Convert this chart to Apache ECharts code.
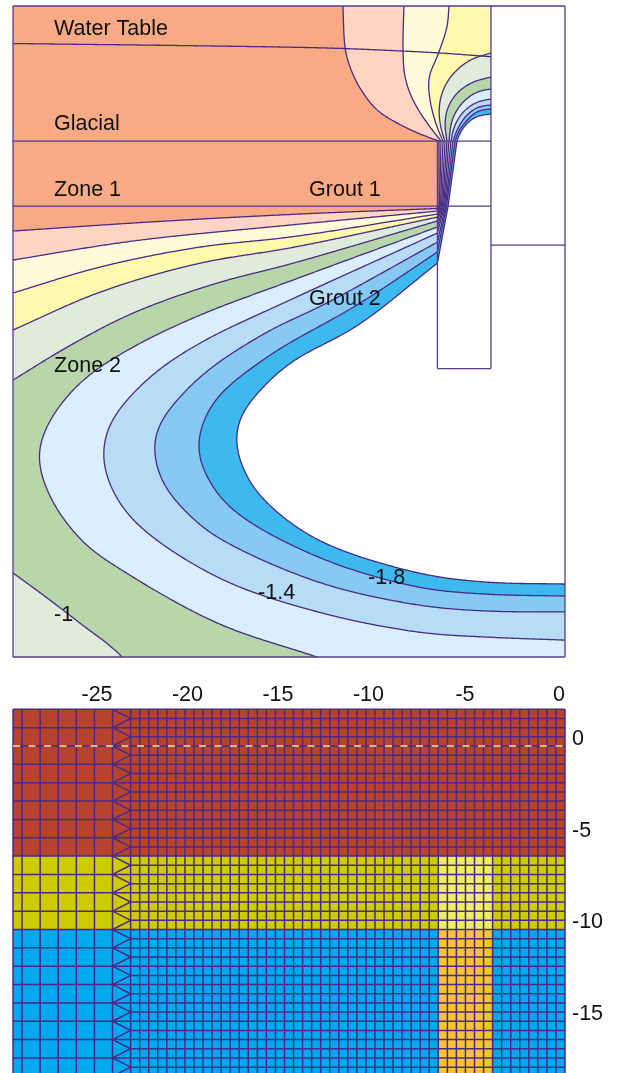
<!DOCTYPE html>
<html><head><meta charset="utf-8">
<style>html,body{margin:0;padding:0;background:#fff}#c{width:619px;height:1073px}</style>
<script src="https://cdn.jsdelivr.net/npm/echarts@6/dist/echarts.min.js"></script>
</head><body><div id="c"></div>
<script>
const xMin = -30.5, xMax = 0;
const contourYMax = 2.31, contourYMin = -37.75;
const meshYMax = 2, meshYMin = -18, meshViewYMin = -17.82;
const xTicks = [-25, -20, -15, -10, -5, 0];
const yTicks = [0, -5, -10, -15];

// Head contours: lower limb (outer boundary to grout wall), crossing at y=-10, upper limb (y=-6 to edge)
const c1Low = [[-30.5,-11.54],[-22.93,-10.98],[-14.64,-10.49],[-7.05,-10.15]];
const c1Up = [[-6.96,-6],[-8.01,-5.57],[-9.28,-4.89],[-10.39,-4.09],[-11.33,-2.74],[-11.88,-1.45],[-12.15,-0.28],[-12.27,2.31]];
const c2Low = [[-30.5,-13.32],[-23.87,-12.15],[-15.19,-11.17],[-7.05,-10.31]];
const c2Up = [[-6.85,-6],[-7.62,-4.89],[-8.40,-3.48],[-8.84,-2.06],[-8.95,-0.40],[-8.90,2.31]];
const c3Low = [[-30.5,-15.35],[-25.69,-13.75],[-20.17,-12.52],[-15.19,-11.91],[-7.05,-10.49]];
const c3Up = [[-6.74,-6],[-7.07,-5.14],[-7.46,-3.48],[-7.51,-2.06],[-7.07,-0.83],[-6.52,1.02],[-6.41,2.31]];
const c4Low = [[-30.5,-17.63],[-25.69,-15.29],[-20.17,-13.51],[-15.19,-12.58],[-7.05,-10.68]];
const c4Up = [[-6.63,-6],[-6.80,-5.45],[-6.96,-4.28],[-6.80,-3.05],[-6.24,-1.94],[-5.25,-1.02],[-4.09,-0.58]];
const c5Low = [[-30.5,-20.71],[-27.51,-18.68],[-23.87,-16.58],[-19.23,-14.74],[-15.19,-13.57],[-7.05,-10.92]];
const c5Up = [[-6.52,-6],[-6.63,-5.14],[-6.52,-4.09],[-5.97,-3.05],[-5.08,-2.37],[-4.09,-2.06]];
const c6Low = [[-13.70,-37.75],[-19.23,-35.66],[-24.75,-32.22],[-26.63,-30.68],[-28.45,-27.91],[-29.09,-25.32],[-28.45,-23.17],[-26.63,-20.71],[-23.87,-18.68],[-20.17,-16.71],[-15.19,-14.62],[-7.05,-11.29]];
const c6Up = [[-6.41,-6],[-6.24,-4.71],[-5.69,-3.66],[-4.86,-2.98],[-4.09,-2.80]];
const c7Low = [[0,-36.71],[-4.42,-36.52],[-8.12,-36.22],[-13.65,-34.98],[-19.23,-32.83],[-23.87,-29.32],[-25.25,-26.86],[-25.52,-25.02],[-25.03,-23.17],[-22.93,-20.52],[-20.17,-18.43],[-15.19,-15.78],[-7.05,-11.66]];
const c7Up = [[-6.30,-6],[-6.13,-5.14],[-5.64,-4.22],[-4.86,-3.60],[-4.09,-3.42]];
const c8Low = [[0,-34.98],[-4.42,-34.92],[-8.12,-34.55],[-13.65,-33.14],[-19.23,-30.37],[-20.88,-28.89],[-22.21,-27.05],[-22.71,-25.02],[-22.43,-23.48],[-20.17,-20.52],[-16.46,-17.75],[-13.37,-16.09],[-7.05,-12.22]];
const c8Up = [[-6.19,-6],[-6.02,-5.45],[-5.52,-4.52],[-4.81,-3.91],[-4.09,-3.78]];
const c9Low = [[0,-34.00],[-4.42,-33.88],[-8.12,-33.45],[-13.65,-31.60],[-18.34,-28.71],[-19.78,-26.68],[-20.28,-24.71],[-19.45,-22.12],[-16.46,-19.29],[-11.49,-16.09],[-7.05,-12.83]];
const c9Up = [[-6.08,-6],[-5.91,-5.45],[-5.41,-4.71],[-4.81,-4.15],[-4.09,-4.03]];
const c10Low = [[0,-33.26],[-4.42,-33.14],[-8.12,-32.58],[-13.65,-30.55],[-16.46,-28.28],[-17.57,-26.68],[-18.18,-24.58],[-17.96,-23.05],[-17.18,-21.75],[-15.19,-19.66],[-11.49,-17.38],[-7.05,-13.51]];
const c10Up = [[-5.97,-6],[-5.80,-5.51],[-5.41,-4.89],[-4.81,-4.46],[-4.09,-4.34]];
const crossingX = [-6.96,-6.93,-6.88,-6.82,-6.77,-6.71,-6.66,-6.60,-6.55,-6.46];
const cornerContour = [[-30.5,-32.58],[-28.45,-34.25],[-26.08,-36.28],[-25.14,-37.02],[-24.48,-37.75]];
const waterTable = [[-30.5,0],[-20.17,-0.14],[-12.98,-0.28],[-9.01,-0.46],[-6.91,-0.58],[-4.09,-0.81]];

const layerY = [-6, -10];
const wellLeft = -7.05, wellRight = -4.09, wellBottom = -20, outerStep = -12.4;

const labelText = ['Water Table','Glacial','Zone 1','Grout 1','Grout 2','Zone 2','-1','-1.4','-1.8'];
const labelX = [-28.23,-28.23,-28.23,-14.14,-14.14,-28.23,-28.23,-16.96,-10.88];
const labelY = [0.89,-4.95,-9.01,-9.01,-15.72,-19.84,-35.17,-33.81,-32.89];

// Mesh
const meshXCoarse = [-30.5,-30,-29,-28,-27,-26,-25];
const meshXFine = [-24,-23.5,-23,-22.5,-22,-21.5,-21,-20.5,-20,-19.5,-19,-18.5,-18,-17.5,-17,-16.5,-16,-15.5,-15,-14.5,-14,-13.5,-13,-12.5,-12,-11.5,-11,-10.5,-10,-9.5,-9,-8.5,-8,-7.5,-7,-6.5,-6,-5.5,-5,-4.5,-4,-3.5,-3,-2.5,-2,-1.5,-1,-0.5,0];
const meshYCoarse = [2,1,0,-1,-2,-3,-4,-5,-6,-7,-8,-9,-10,-11,-12,-13,-14,-15,-16,-17,-18];
const meshYHalf = [1.5,0.5,-0.5,-1.5,-2.5,-3.5,-4.5,-5.5,-6.5,-7.5,-8.5,-9.5,-10.5,-11.5,-12.5,-13.5,-14.5,-15.5,-16.5,-17.5];
const zoneBands = [
  [-30.5,0,2,-6,'#b7432f'],
  [-30.5,0,-6,-10,'#cccc00'],
  [-7,-4,-6,-10,'#eeee60'],
  [-30.5,0,-10,-18,'#00a9ed'],
  [-7,-4,-10,-18,'#f8c232']
];

const INK = '#4a2a85';
const FONT = '"Liberation Sans", Arial, sans-serif';

function catmull(pts){
  if (pts.length < 3) return pts.slice();
  const out = [pts[0]], N = 10;
  const d = (a,b)=>Math.max(1e-3, Math.sqrt(Math.hypot(a[0]-b[0],a[1]-b[1])));
  const lerp = (a,b,t)=>[a[0]+(b[0]-a[0])*t, a[1]+(b[1]-a[1])*t];
  for (let i=0;i<pts.length-1;i++){
    const p1=pts[i], p2=pts[i+1];
    const p0=pts[i-1]||[2*p1[0]-p2[0],2*p1[1]-p2[1]];
    const p3=pts[i+2]||[2*p2[0]-p1[0],2*p2[1]-p1[1]];
    const t0=0,t1=t0+d(p0,p1),t2=t1+d(p1,p2),t3=t2+d(p2,p3);
    for (let s=1;s<=N;s++){
      const t=t1+(t2-t1)*s/N;
      const a1=lerp(p0,p1,(t-t0)/(t1-t0)),a2=lerp(p1,p2,(t-t1)/(t2-t1)),a3=lerp(p2,p3,(t-t2)/(t3-t2));
      const b1=lerp(a1,a2,(t-t0)/(t2-t0)),b2=lerp(a2,a3,(t-t1)/(t3-t1));
      out.push(lerp(b1,b2,(t-t1)/(t2-t1)));
    }
  }
  return out;
}
// Drawing helper: even spacing, then a small moving average so the hand-read points do not show as kinks
function fair(path, radius){
  const step = 1.5, res = [path[0]];
  let carry = 0;
  for (let i=1;i<path.length;i++){
    const a=path[i-1], b=path[i], len=Math.hypot(b[0]-a[0],b[1]-a[1]);
    let t=step-carry;
    while(t<len){ res.push([a[0]+(b[0]-a[0])*t/len,a[1]+(b[1]-a[1])*t/len]); t+=step; }
    carry=(carry+len)%step;
  }
  res.push(path[path.length-1]);
  let cur=res;
  for (let pass=0;pass<2;pass++){
    cur=cur.map((_,i)=>{
      const r=Math.min(radius,i,cur.length-1-i);
      let x=0,y=0;
      for(let k=i-r;k<=i+r;k++){x+=cur[k][0];y+=cur[k][1];}
      return [x/(2*r+1),y/(2*r+1)];
    });
  }
  return cur;
}

function pathPx(api, c){
  const low = fair(catmull(c.low.map(p=>api.coord(p))),8);
  const mid = [api.coord([c.cross,-10])];
  const up = fair(catmull(c.up.map(p=>api.coord(p))),3);
  return low.concat(mid, up);
}

const contours = [
  {low:c1Low,up:c1Up},{low:c2Low,up:c2Up},{low:c3Low,up:c3Up},{low:c4Low,up:c4Up},{low:c5Low,up:c5Up},
  {low:c6Low,up:c6Up},{low:c7Low,up:c7Up},{low:c8Low,up:c8Up},{low:c9Low,up:c9Up},{low:c10Low,up:c10Up}
].map((c,i)=>Object.assign(c,{cross:crossingX[i]}));
const fills = ['#fdd5c2','#fffbd8','#fff8ad','#dfecdb','#b7d7ab','#dbeefd','#b6dcf6','#86caf4','#3db9f0','#ffffff'];

function custom(grid, data, renderItem){
  return {type:'custom',coordinateSystem:'cartesian2d',xAxisIndex:grid,yAxisIndex:grid,silent:true,animation:false,clip:false,data,renderItem};
}

const series = [];
series.push(custom(0,[[xMin,contourYMax]],(p,api)=>({type:'polygon',shape:{points:[[xMin,contourYMax],[xMax,contourYMax],[xMax,contourYMin],[xMin,contourYMin]].map(q=>api.coord(q))},style:{fill:'#f7aa84'}})));
contours.forEach((c,i)=>{
  series.push(custom(0,[c.low[0]],(p,api)=>{
    const last=c.up[c.up.length-1];
    let extra;
    if (i<5) extra=[[xMax,last[1]],[xMax,contourYMin],[xMin,contourYMin]];
    else if (i===5) extra=[[xMax,last[1]],[xMax,contourYMin]];
    else if (i<9) extra=[[xMax,last[1]]];
    else extra=[[last[0],contourYMax],[xMax,contourYMax]];
    return {type:'polygon',shape:{points:pathPx(api,c).concat(extra.map(q=>api.coord(q)))},style:{fill:fills[i]}};
  }));
  if (i===4){
    series.push(custom(0,[cornerContour[0]],(p,api)=>({type:'polygon',shape:{points:fair(catmull(cornerContour.map(q=>api.coord(q))),8).concat([api.coord([xMin,contourYMin])])},style:{fill:'#dfecdb'}})));
  }
});
contours.forEach(c=>{
  series.push(custom(0,[c.low[0]],(p,api)=>({type:'polyline',shape:{points:pathPx(api,c)},style:{fill:null,stroke:INK,lineWidth:1.3}})));
});
[cornerContour,waterTable].forEach(l=>{
  series.push(custom(0,[l[0]],(p,api)=>({type:'polyline',shape:{points:fair(catmull(l.map(q=>api.coord(q))),8)},style:{fill:null,stroke:INK,lineWidth:1.3}})));
});
const topSegments = [
  [xMin,layerY[0],wellRight,layerY[0]],
  [xMin,layerY[1],wellRight,layerY[1]],
  [wellLeft,layerY[0],wellLeft,wellBottom],
  [wellLeft,wellBottom,wellRight,wellBottom],
  [wellRight,wellBottom,wellRight,contourYMax],
  [wellRight,outerStep,xMax,outerStep],
  [xMin,contourYMax,xMax,contourYMax],
  [xMin,contourYMin,xMax,contourYMin],
  [xMin,contourYMax,xMin,contourYMin],
  [xMax,contourYMax,xMax,contourYMin]
];
const segmentItem = (w,color)=>(p,api)=>{
  const a=api.coord([api.value(0),api.value(1)]),b=api.coord([api.value(2),api.value(3)]);
  return {type:'line',shape:{x1:a[0],y1:a[1],x2:b[0],y2:b[1]},style:{stroke:color,lineWidth:w}};
};
series.push(custom(0,topSegments,segmentItem(1.3,'#553a8e')));
series.push(custom(0,labelText.map((t,i)=>[labelX[i],labelY[i],t]),(p,api)=>{
  const a=api.coord([api.value(0),api.value(1)]);
  return {type:'text',x:a[0],y:a[1],style:{text:labelText[p.dataIndex],fill:'#111',font:'21.5px '+FONT,textAlign:'left',textVerticalAlign:'middle'}};
}));

series.push(custom(1,zoneBands,(p,api)=>{
  const b=zoneBands[p.dataIndex];
  const a=api.coord([b[0],b[2]]),c=api.coord([b[1],b[3]]);
  return {type:'rect',shape:{x:a[0],y:a[1],width:c[0]-a[0],height:c[1]-a[1]},style:{fill:b[4]}};
}));
const meshSegments = [];
meshXCoarse.concat(meshXFine).forEach(x=>meshSegments.push([x,meshYMax,x,meshYMin]));
meshYCoarse.forEach(y=>meshSegments.push([xMin,y,xMax,y]));
meshYHalf.forEach(y=>{
  meshSegments.push([-24,y,xMax,y]);
  meshSegments.push([-25,y+0.5,-24,y]);
  meshSegments.push([-25,y-0.5,-24,y]);
});
series.push(custom(1,meshSegments,segmentItem(1.5,INK)));
series.push(custom(1,[[xMin,0,xMax,0]],(p,api)=>{
  const a=api.coord([api.value(0),api.value(1)]),b=api.coord([api.value(2),api.value(3)]);
  return {type:'line',shape:{x1:a[0],y1:a[1],x2:b[0],y2:b[1]},style:{stroke:'#f6ea8c',lineWidth:1.5,lineDash:[7,8.5]}};
}));

const chart = echarts.init(document.getElementById('c'),null,{renderer:'canvas'});
const hidden = {show:false};
chart.setOption({
  animation:false,
  backgroundColor:'#fff',
  grid:[
    {left:13,top:6,width:552,height:651},
    {left:13,top:709.3,width:552,height:363.7}
  ],
  xAxis:[
    {type:'value',gridIndex:0,min:xMin,max:xMax,show:false,splitLine:hidden},
    {type:'value',gridIndex:1,min:xMin,max:xMax,position:'top',axisLine:hidden,axisTick:hidden,splitLine:hidden,
     axisLabel:{customValues:xTicks,align:'right',fontSize:21.5,color:'#111',fontFamily:FONT,margin:3,formatter:v=>String(v)}}
  ],
  yAxis:[
    {type:'value',gridIndex:0,min:contourYMin,max:contourYMax,show:false,splitLine:hidden},
    {type:'value',gridIndex:1,min:meshViewYMin,max:meshYMax,position:'right',axisLine:hidden,axisTick:hidden,splitLine:hidden,
     axisLabel:{customValues:yTicks,fontSize:21.5,color:'#111',fontFamily:FONT,margin:7,verticalAlign:'bottom',lineHeight:14,formatter:v=>String(v)}}
  ],
  series
});
</script></body></html>
